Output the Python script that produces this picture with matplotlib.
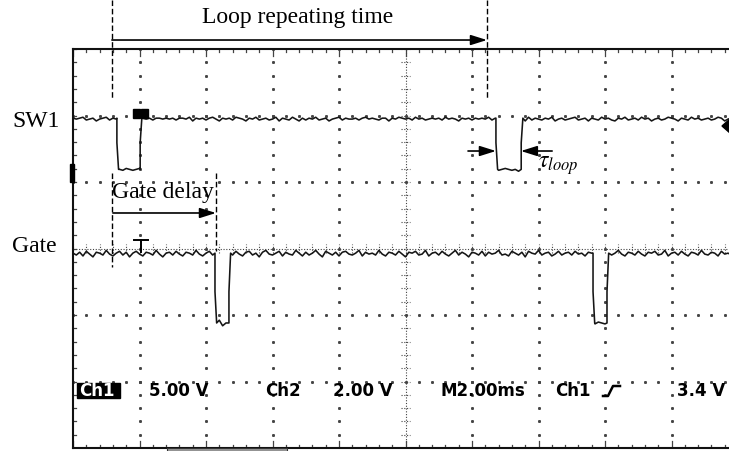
import numpy as np
import matplotlib.pyplot as plt
from matplotlib.patches import Rectangle, Polygon
from matplotlib.lines import Line2D

plt.rcParams['mathtext.fontset'] = 'stix'

# oscilloscope record: time in ms (M2.00ms per division), level in divisions
t_ms = [i * 0.1 for i in range(200)]

# SW1 (Ch1)
sw1_high = 4.96
sw1_low = 4.19
sw1_step = 4.59
sw1_fall = [1.32, 12.72]
sw1_rise = [2.02, 13.48]
# small wiggles, in 1/100 division
sw1_wiggle = [0, -1, 0, 1, -2, -1, 0, -3, -1, 0,
              1, -2, 0, -1, 0, -1, 1, 0, -1, 0,
              1, 0, -1, 0, -2, 0, 0, -1, 0, -1,
              0, -2, 0, 0, -1, 1, -3, 0, -1, 0,
              -2, 0, 1, -1, -3, 0, -1, 0, -2, 1,
              0, -1, -3, 0, -1, 1, -2, -1, 0, -2,
              -1, 1, -3, 0, -1, -2, 1, -1, -3, 0,
              -2, 0, -1, 1, -2, -1, 0, -3, -1, 0,
              1, -2, 0, -1, -1, 0, -2, 0, 1, -1,
              0, -1, -2, 0, 0, -3, 0, -1, 1, 0,
              -1, 0, -2, 1, -1, 0, -2, -1, 0, -1,
              0, -2, 1, -1, 0, -1, -3, 0, -1, 0,
              -2, 0, -1, 0, -1, 1, -2, 0, -1, 0,
              1, 0, -1, 0, -2, -1, -3, 1, -2, 0,
              -1, -2, 0, -1, 1, -3, -1, 0, -2, -1,
              0, 1, -2, -1, 0, -3, 0, -1, -2, 1,
              -1, 0, -2, -3, 0, -1, 1, -2, -1, 0,
              -2, 1, -1, 0, -3, -1, 0, -2, -1, 1,
              0, -1, -3, 0, -1, -2, 1, -1, 0, -2,
              -1, 0, -2, -1, 1, 0, -3, -1, 0, -1]

# Gate (Ch2)
gate_high = 2.93
gate_low = 1.88
gate_step = 2.35
gate_fall = [4.27, 15.64]
gate_rise = [4.69, 16.06]
gate_wiggle = [0, -2, 1, -3, 2, -1, -4, 1, 0, -2,
               3, -1, -3, 0, 2, -2, 1, -4, 0, 2,
               -1, -3, 1, 0, -2, 3, -1, -4, 0, 1,
               -2, 2, -1, -3, 1, 0, -2, 3, -1, -3,
               0, 2, -2, -1, 3, -3, 0, 1, -2, 2,
               -1, -3, 1, 2, -2, 0, -4, 1, 3, -1,
               -2, 0, 2, -3, 1, -1, -2, 3, 0, -3,
               1, -2, 0, 3, -1, -4, 2, 0, -2, 1,
               -3, 1, 2, -1, -2, 0, 3, -3, 1, -1,
               0, -2, 3, -1, -3, 1, 0, -2, 2, -1,
               -4, 1, 0, 2, -2, -1, 3, -3, 0, 1,
               -2, 2, -1, -3, 0, 3, -2, 1, -1, -4,
               1, 0, -2, 2, -3, 1, -1, 0, 3, -2,
               -1, -3, 2, 0, -2, 1, -4, 2, 0, -1,
               3, -2, 0, 1, -3, -1, 2, -2, 0, 1,
               -2, 2, -1, 0, -3, 1, 0, -1, 1, 0,
               -1, 2, -2, 0, 3, -1, -3, 1, 0, -2,
               2, -1, -3, 1, 0, 2, -2, -1, 3, -3,
               0, 1, -2, 2, -1, -3, 1, 0, -2, 3,
               -1, -2, 1, 0, -3, 2, -1, 0, -2, 1]

screen_text = ['5.00 V', 'Ch2', '2.00 V', 'M2.00ms', 'Ch1', '3.4 V']
screen_text_px = [149, 265, 333, 441, 555, 677]


def build_trace(wiggle, high, low, step, falls, rises):
    pts = []
    for t, w in zip(t_ms, wiggle):
        inside = False
        skip = False
        for f, r in zip(falls, rises):
            if f <= t < r:
                inside = True
            if f <= t < f + 0.05 or r <= t < r + 0.05:
                skip = True
        if skip:
            continue
        pts.append((t, (low if inside else high) + w * 0.014))
    for f, r in zip(falls, rises):
        pts += [(f, high), (f, step), (f + 0.05, low), (r, low), (r, step), (r + 0.05, high)]
    pts.sort(key=lambda p: p[0])
    return [p[0] for p in pts], [p[1] for p in pts]


W, H = 729, 451
fig = plt.figure(figsize=(7.29, 4.51), dpi=100)


def fx(px):
    return px / W


def fy(py):
    return 1 - py / H


ax = fig.add_axes([fx(73), fy(448), 665 / W, 399 / H])
ax.set_xlim(0, 20)
ax.set_ylim(0, 6)
ax.set_xticks([])
ax.set_yticks([])
for s in ax.spines.values():
    s.set_linewidth(1.5)
    s.set_color('#111111')

# graticule
gc = '#444444'
minor_x = np.arange(0, 20.01, 0.4)
minor_y = np.arange(0, 6.01, 0.2)
for xm in [2, 4, 6, 8, 12, 14, 16, 18]:
    ax.plot(np.full_like(minor_y, xm), minor_y, ls='none', marker='s', ms=1.1, color=gc)
for ym in [1, 2, 4, 5]:
    ax.plot(minor_x, np.full_like(minor_x, ym), ls='none', marker='s', ms=1.1, color=gc)
ax.plot([10, 10], [0, 6], color=gc, lw=0.8, ls=(0, (1, 1.5)))
ax.plot([0, 20], [3, 3], color=gc, lw=0.8, ls=(0, (1, 1.5)))
for y in minor_y:
    ax.plot([9.85, 10.15], [y, y], color=gc, lw=0.8, ls=(0, (1, 1.5)))
for x in minor_x:
    ax.plot([x, x], [2.925, 3.075], color=gc, lw=0.8, ls=(0, (1, 1.5)))
# border ticks
for x in minor_x:
    major = abs(x / 2 - round(x / 2)) < 1e-6
    d = 0.1 if major else 0.045
    ax.plot([x, x], [6, 6 - d], color=gc, lw=0.9)
    ax.plot([x, x], [0, d], color=gc, lw=0.9)
for y in minor_y:
    ax.plot([0, 0.09], [y, y], color=gc, lw=0.9)

# traces
xs, ys = build_trace(sw1_wiggle, sw1_high, sw1_low, sw1_step, sw1_fall, sw1_rise)
ax.plot(xs, ys, color='#151515', lw=1.15)
xs, ys = build_trace(gate_wiggle, gate_high, gate_low, gate_step, gate_fall, gate_rise)
ax.plot(xs, ys, color='#151515', lw=1.15)

# scope markers
fig.patches.append(Rectangle((fx(133), fy(118)), 7 / W, 9 / H, transform=fig.transFigure, color='black'))
fig.patches.append(Rectangle((fx(141), fy(118)), 7 / W, 9 / H, transform=fig.transFigure, color='black'))
fig.patches.append(Rectangle((fx(70), fy(182)), 4 / W, 18 / H, transform=fig.transFigure, color='black'))
fig.patches.append(Polygon([(fx(722), fy(126)), (fx(730), fy(119)), (fx(730), fy(133))],
                           closed=True, transform=fig.transFigure, color='black'))
fig.lines.append(Line2D([fx(134), fx(148)], [fy(240), fy(240)], transform=fig.transFigure, color='black', lw=1.4))
fig.lines.append(Line2D([fx(141), fx(141)], [fy(240), fy(252)], transform=fig.transFigure, color='black', lw=1.4))
fig.patches.append(Rectangle((fx(167), fy(451)), 120 / W, 3 / H, transform=fig.transFigure,
                             facecolor='#999999', edgecolor='#333333', lw=0.8))

# screen readout
fig.patches.append(Rectangle((fx(77), fy(398)), 43 / W, 15 / H, transform=fig.transFigure, color='black'))
fig.text(fx(79), fy(396), 'Ch1', color='white', fontsize=12, fontweight='bold',
         va='baseline', ha='left', family='DejaVu Sans')
for s, px in zip(screen_text, screen_text_px):
    fig.text(fx(px), fy(396), s, color='black', fontsize=12, fontweight='bold',
             va='baseline', ha='left', family='DejaVu Sans')
fig.lines.append(Line2D([fx(603), fx(608), fx(613), fx(620)], [fy(396), fy(396), fy(386), fy(386)],
                        transform=fig.transFigure, color='black', lw=1.8))

# annotations
dash = dict(color='black', lw=1.0, ls=(0, (4, 2)), clip_on=False)
ax.plot([1.17, 1.17], [6.74, 5.23], **dash)
ax.plot([12.45, 12.45], [6.74, 5.23], **dash)
ax.plot([1.17, 1.17], [4.14, 2.72], **dash)
ax.plot([4.30, 4.30], [4.14, 2.96], **dash)

arrow = dict(arrowstyle='-|>,head_length=0.7,head_width=0.22', lw=1.2, color='black',
             shrinkA=0, shrinkB=0, mutation_scale=14)
ax.annotate('', xy=(12.45, 6.135), xytext=(1.17, 6.135), arrowprops=arrow, annotation_clip=False)
ax.annotate('', xy=(4.30, 3.534), xytext=(1.2, 3.534), arrowprops=arrow, annotation_clip=False)
ax.annotate('', xy=(12.72, 4.466), xytext=(11.88, 4.466), arrowprops=arrow)
ax.annotate('', xy=(13.47, 4.466), xytext=(14.41, 4.466), arrowprops=arrow)

serif = 'Liberation Serif'
fig.text(fx(298), fy(23), 'Loop repeating time', fontsize=17, family=serif, ha='center', va='baseline')
fig.text(fx(12), fy(127), 'SW1', fontsize=17, family=serif, ha='left', va='baseline')
fig.text(fx(12), fy(252), 'Gate', fontsize=17, family=serif, ha='left', va='baseline')
ax.text(1.17, 3.76, 'Gate delay', fontsize=17, family=serif, ha='left', va='baseline')
ax.text(13.98, 4.21, r'$\tau_{loop}$', fontsize=17, ha='left', va='baseline')

fig.savefig('out.png', dpi=100)
